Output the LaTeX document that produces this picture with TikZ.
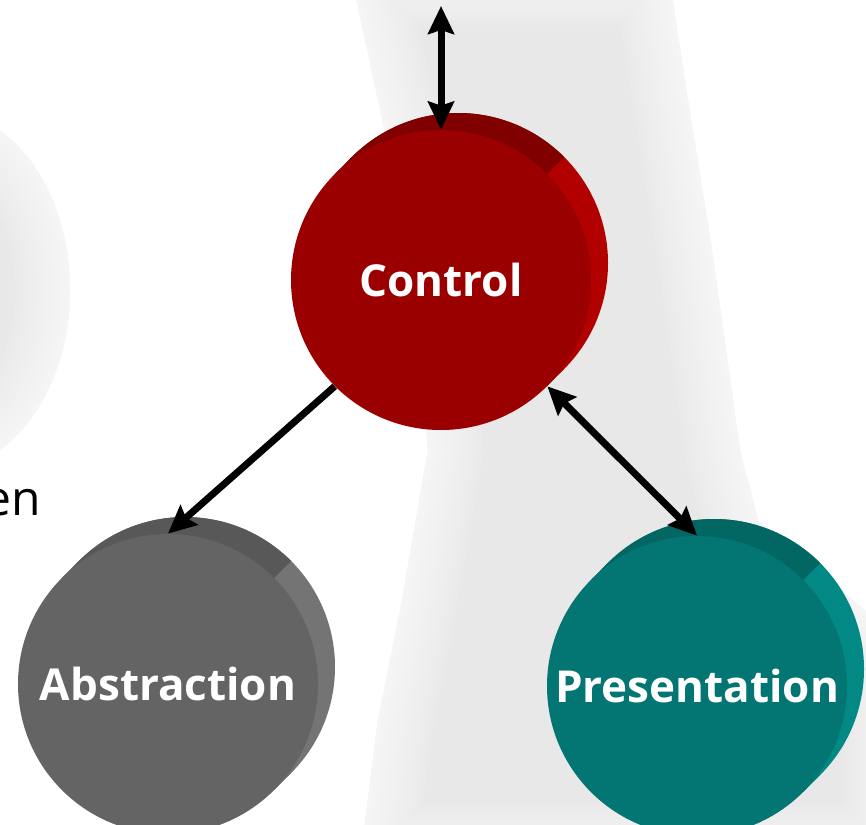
\documentclass[tikz,border=0pt]{standalone}
\usepackage{fontspec}
\setmainfont{Open Sans}
\usepackage{xcolor}
\usepackage{tikz}
\usetikzlibrary{arrows.meta, positioning}
\definecolor{bandgray}{RGB}{232,232,232}
\definecolor{ctrlface}{RGB}{155,0,0}
\definecolor{ctrltop}{RGB}{128,0,0}
\definecolor{ctrlside}{RGB}{178,0,0}
\definecolor{absface}{RGB}{100,100,100}
\definecolor{abstop}{RGB}{88,88,88}
\definecolor{absside}{RGB}{116,116,116}
\definecolor{presface}{RGB}{3,117,114}
\definecolor{prestop}{RGB}{2,102,99}
\definecolor{presside}{RGB}{3,137,133}
\tikzset{
  disc/.style={circle, minimum size=150pt, inner sep=0pt, text=white,
               font=\fontsize{22}{26}\selectfont\bfseries},
  >={Stealth[length=14pt, width=13pt, inset=2pt]},
  arrowline/.style={->, line width=3.5pt},
  twoway/.style={<->, line width=3.5pt},
  softedge/.style={white, opacity=0.1, line join=round},
}
% side of a disc seen in 3d: #1 centre, #2 top colour, #3 right colour
\newcommand{\discside}[3]{%
  \begin{scope}[shift={#1}]
    \fill[#3] (17,-17) circle (150);
    \fill[#3] (-106,-106) -- (-89,-123) -- (123,89) -- (106,106) -- cycle;
    \begin{scope}
      \clip (-320,320) -- (320,-320) -- (-320,-320) -- cycle;
      \fill[#2] (17,-17) circle (150);
      \fill[#2] (-106,-106) -- (-89,-123) -- (123,89) -- (106,106) -- cycle;
    \end{scope}
  \end{scope}}
\newcommand{\bandpath}{(350,-30) -- (378,100) -- (410,250) -- (428,450) -- (402,600)
  -- (378,720) -- (360,860) -- (900,860) -- (900,640) -- (758,520) -- (740,450)
  -- (712,250) -- (688,100) -- (668,-30) -- cycle}

\begin{document}
\begin{tikzpicture}[x=0.5pt, y=-0.5pt]
\useasboundingbox (0,0) rectangle (866,824);
\fill[white] (0,0) rectangle (866,824);
% blurred backdrop
\begin{scope}
  \clip (0,0) rectangle (866,824);
  \fill[bandgray] \bandpath;
  \fill[bandgray] (-60,290) ellipse (130 and 180);
  \foreach \w in {110,100,...,10} {
    \draw[softedge, line width=\w*0.5pt] \bandpath;
    \draw[softedge, line width=\w*0.5pt] (-60,290) ellipse (130 and 180);
  }
\end{scope}

\node[anchor=base east, inner sep=0pt, font=\fontsize{24}{28}\selectfont] (en) at (41,515) {en};

\coordinate (c) at (441,280);
\coordinate (a) at (168,684);
\coordinate (p) at (697,686);
\discside{(c)}{ctrltop}{ctrlside}
\discside{(a)}{abstop}{absside}
\discside{(p)}{prestop}{presside}

\node[disc, fill=ctrlface] (ctrl) at (c) {Control};
\node[disc, fill=absface] (abs) at (a) {Abstraction};
\node[disc, fill=presface] (pres) at (p) {Presentation};

\coordinate (up) at (441,6);
\draw[twoway] (up) -- (ctrl.north);
\draw[arrowline] (ctrl.225) -- (abs.north);
\draw[twoway] (ctrl.-45) -- (pres.north);
\end{tikzpicture}
\end{document}
